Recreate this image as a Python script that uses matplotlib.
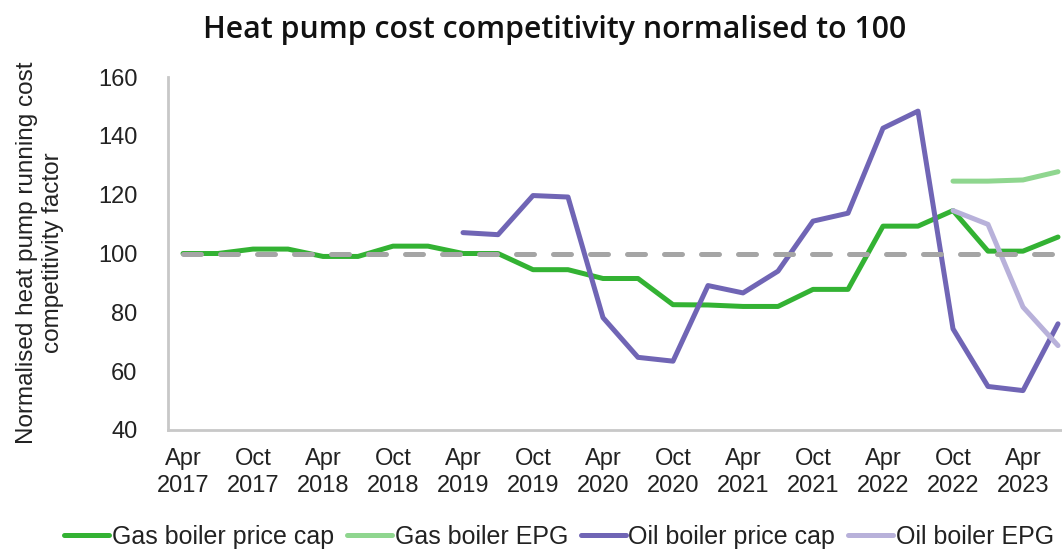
import matplotlib
matplotlib.use('Agg')
import matplotlib.pyplot as plt
import numpy as np

# quarterly points, Apr 2017 .. Jul 2023
quarters = ['Apr 2017', 'Jul 2017', 'Oct 2017', 'Jan 2018', 'Apr 2018', 'Jul 2018',
            'Oct 2018', 'Jan 2019', 'Apr 2019', 'Jul 2019', 'Oct 2019', 'Jan 2020',
            'Apr 2020', 'Jul 2020', 'Oct 2020', 'Jan 2021', 'Apr 2021', 'Jul 2021',
            'Oct 2021', 'Jan 2022', 'Apr 2022', 'Jul 2022', 'Oct 2022', 'Jan 2023',
            'Apr 2023', 'Jul 2023']

gas_cap = [100, 100, 101.5, 101.5, 99, 99, 102.5, 102.5, 100, 100, 94.5, 94.5,
           91.5, 91.5, 82.6, 82.5, 82, 82, 87.8, 87.8, 109.3, 109.3, 114.6, 100.8,
           100.8, 105.6]
gas_epg = [None] * 22 + [124.6, 124.6, 125.0, 127.8]
oil_cap = [None] * 8 + [107.1, 106.4, 119.7, 119.2, 78.2, 64.7, 63.4, 89.1, 86.6,
                        94.0, 111.0, 113.7, 142.6, 148.4, 74.4, 54.8, 53.4, 76.1]
oil_epg = [None] * 22 + [114.6, 109.9, 81.8, 68.7]
baseline = [100] * 26

def arr(v):
    return np.array([np.nan if a is None else a for a in v], dtype=float)

x = np.arange(len(quarters))

plt.rcParams['font.family'] = ['Liberation Sans', 'DejaVu Sans']
fig = plt.figure(figsize=(10.62, 5.51), dpi=100)
ax = fig.add_axes([168 / 1062, 1 - 430 / 551, (1062 - 168) / 1062, (430 - 77) / 551])

ax.plot(x, arr(gas_cap), color='#33b233', lw=3.6, label='Gas boiler price cap', solid_capstyle='round')
ax.plot(x, arr(gas_epg), color='#8fd68f', lw=3.6, label='Gas boiler EPG', solid_capstyle='round')
ax.plot(x, arr(oil_cap), color='#7065b5', lw=3.6, label='Oil boiler price cap', solid_capstyle='round')
ax.plot(x, arr(oil_epg), color='#b8b1da', lw=3.6, label='Oil boiler EPG', solid_capstyle='round')
ax.plot(x, baseline, color='#a5a5a5', lw=3.6, dashes=(3.6, 3.8), dash_capstyle='round')

ax.set_ylim(40, 160)
ax.set_yticks(range(40, 161, 20))
ax.set_xlim((168 - 183) / 35, (1062 - 183) / 35)
ax.set_xticks(x[::2])
ax.set_xticklabels([q.replace(' ', '\n') for q in quarters[::2]], linespacing=1.3)
ax.tick_params(axis='both', length=0, labelsize=17, colors='#222222')
ax.tick_params(axis='y', pad=22)
ax.tick_params(axis='x', pad=13)
for s in ['top', 'right']:
    ax.spines[s].set_visible(False)
for s in ['left', 'bottom']:
    ax.spines[s].set_color('#c8c8c8')
    ax.spines[s].set_linewidth(2)

fig.text(40 / 1062, 1 - 253 / 551, 'Normalised heat pump running cost\ncompetitivity factor',
         rotation=90, ha='center', va='center', fontsize=17.5, color='#222222', linespacing=1.2)
fig.text(555 / 1062, 1 - 30 / 551, 'Heat pump cost competitivity normalised to 100',
         ha='center', va='center', fontsize=21.8, fontweight='semibold',
         family=['Open Sans', 'DejaVu Sans'], color='#111111')

fig.legend(loc='center', bbox_to_anchor=(559 / 1062, 1 - 537 / 551), ncol=4, frameon=False,
           fontsize=18, handlelength=1.8, handletextpad=0.12, columnspacing=0.5,
           labelcolor='#222222')

plt.savefig('out.png', dpi=100)
plt.close()
